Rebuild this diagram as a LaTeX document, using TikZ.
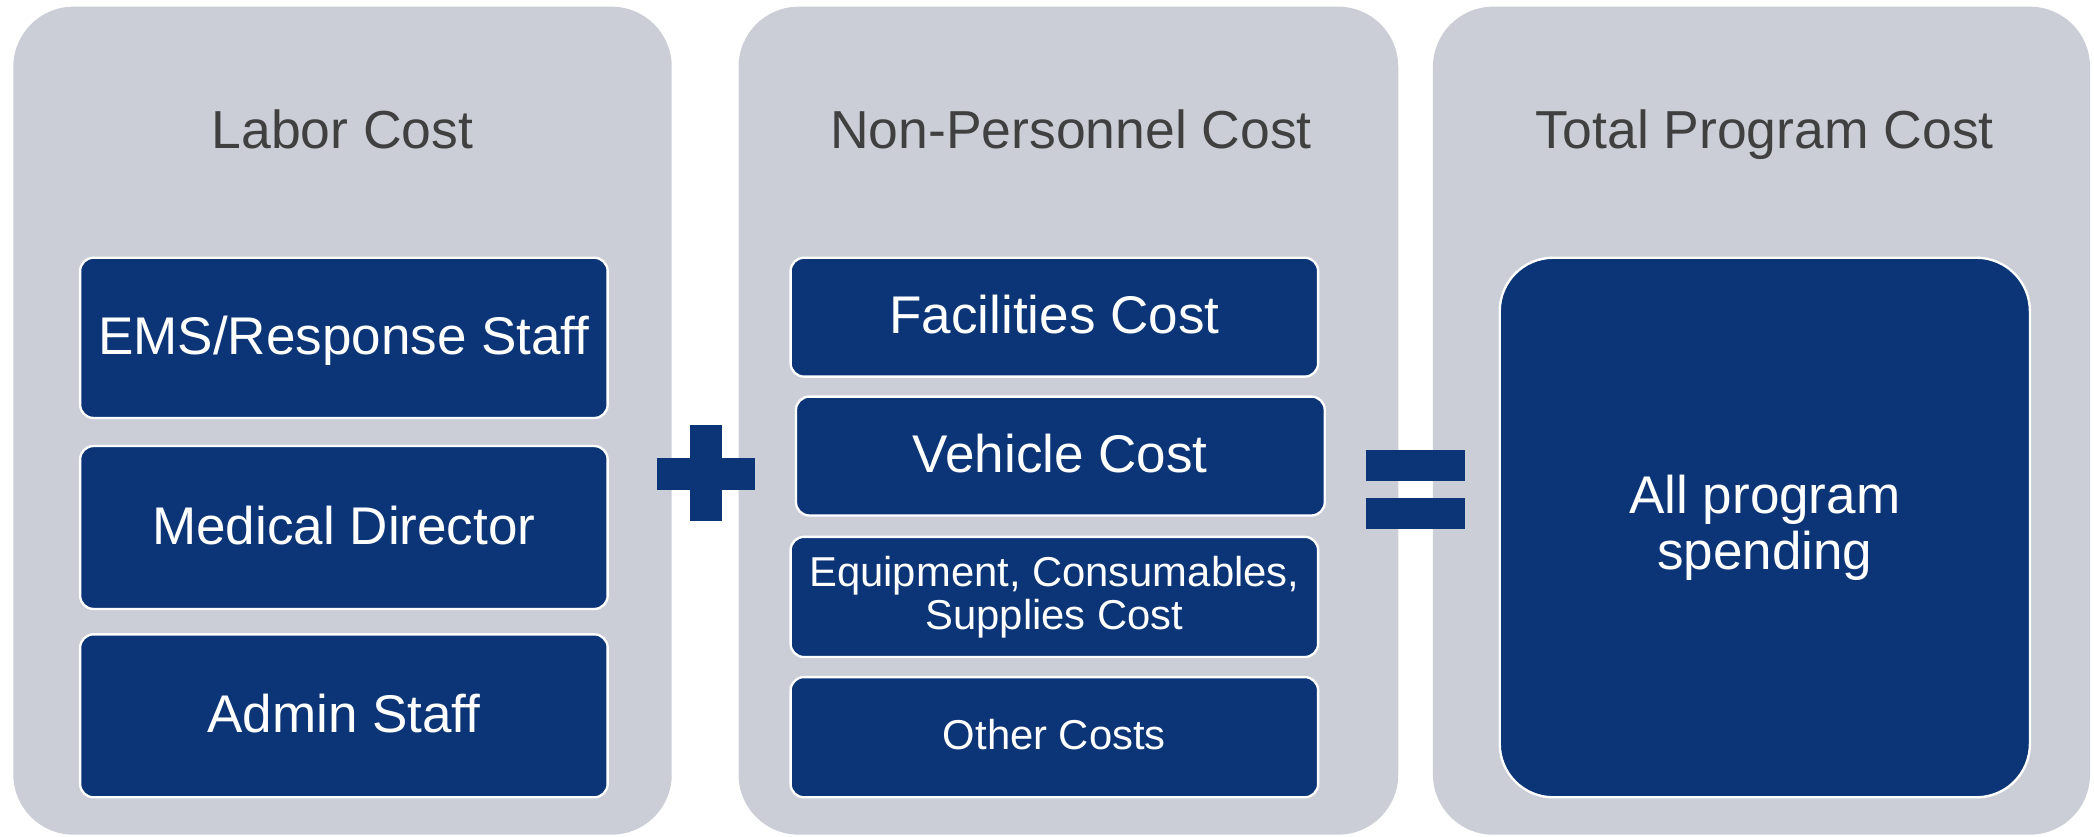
\documentclass[tikz,border=0pt]{standalone}
\usepackage{fontspec}
\setmainfont{Liberation Sans}
\usetikzlibrary{positioning}
\definecolor{panelgray}{RGB}{203,206,214}
\definecolor{costnavy}{RGB}{12,53,120}
\definecolor{titlegray}{RGB}{64,64,64}

\begin{document}
\begin{tikzpicture}[
  panel/.style={rectangle,rounded corners=.45cm,fill=panelgray,minimum height=6.2cm},
  costbox/.style={rectangle,rounded corners=.1cm,draw=white,line width=.5pt,fill=costnavy,text=white,
    minimum width=3.95cm,font=\fontsize{11.3}{13}\selectfont,text height=.30cm,text depth=.05cm},
  smallbox/.style={costbox,font=\fontsize{8.9}{9.25}\selectfont,text height=.23cm,text depth=.04cm},
  twolinebox/.style={rectangle,rounded corners=.1cm,draw=white,line width=.5pt,fill=costnavy,text=white,
    minimum width=3.95cm,align=center,font=\fontsize{8.9}{9.25}\selectfont},
  title/.style={anchor=base,text=titlegray,font=\fontsize{11.4}{13}\selectfont}
]
  \useasboundingbox (0,0) rectangle (15.68,6.26);
  % panels
  \draw(2.565,3.11) node[panel,minimum width=4.93cm] (lab) {};
  \draw(8.00,3.11) node[panel,minimum width=4.94cm] (nonp) {};
  \draw(13.19,3.11) node[panel,minimum width=4.92cm] (tot) {};
  % titles
  \draw([yshift=-1.066cm]lab.north) node[title] (labt) {Labor Cost};
  \draw([xshift=.02cm,yshift=-1.066cm]nonp.north) node[title] (nonpt) {Non-Personnel Cost};
  \draw([xshift=.025cm,yshift=-1.066cm]tot.north) node[title] (tott) {Total Program Cost};
  % labor items
  \draw(2.575,3.73) node[costbox,minimum height=1.20cm] (ems) {EMS/Response Staff};
  \draw(2.575,2.31) node[costbox,minimum height=1.22cm] (med) {Medical Director};
  \draw(2.575,0.90) node[costbox,minimum height=1.22cm] (adm) {Admin Staff};
  % non-personnel items
  \draw(7.895,3.885) node[costbox,minimum height=.89cm] (fac) {Facilities Cost};
  \draw(7.94,2.845) node[costbox,minimum width=3.96cm,minimum height=.89cm] (veh) {Vehicle Cost};
  \draw(7.895,1.79) node[twolinebox,minimum height=.90cm] (equ) {Equipment, Consumables,\\Supplies Cost};
  \draw(7.895,0.74) node[smallbox,minimum height=.90cm] (oth) {Other Costs};
  % total
  \draw(13.215,2.31) node[twolinebox,rounded corners=.4cm,minimum width=3.97cm,minimum height=4.04cm,
    font=\fontsize{11.3}{11.95}\selectfont] (all) {All program\\spending};
  % plus and equals
  \fill[costnavy] (4.92,2.59) rectangle (5.65,2.83);
  \fill[costnavy] (5.17,2.36) rectangle (5.41,3.08);
  \fill[costnavy] (10.23,2.66) rectangle (10.97,2.89);
  \fill[costnavy] (10.23,2.30) rectangle (10.97,2.53);
\end{tikzpicture}
\end{document}
